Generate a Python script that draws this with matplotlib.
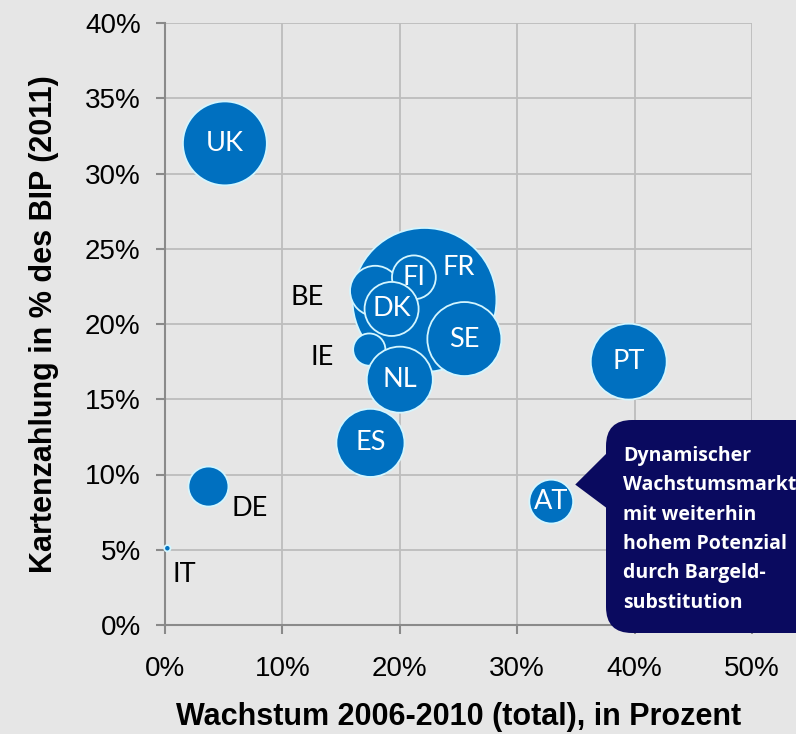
import matplotlib
matplotlib.use("Agg")
import matplotlib.pyplot as plt
from matplotlib.patches import FancyBboxPatch, Polygon
from matplotlib.transforms import IdentityTransform
from matplotlib.ticker import MultipleLocator, PercentFormatter

# Bubble data (drawing order: FR in the back)
countries = ["FR", "BE", "FI", "DK", "SE", "IE", "ES", "NL", "UK", "DE", "IT", "AT", "PT"]
growth = [22.1, 17.9, 21.2, 19.3, 25.5, 17.4, 17.5, 20.0, 5.1, 3.7, 0.2, 32.9, 39.5]      # % 2006-2010
card_share = [21.6, 22.2, 23.1, 21.0, 19.0, 18.3, 12.1, 16.3, 32.0, 9.2, 5.1, 8.2, 17.5]  # % of GDP 2011
volume = [51.8, 6.3, 4.8, 7.3, 13.7, 2.6, 11.6, 10.9, 17.6, 4.0, 0.1, 4.8, 14.4]         # bubble size

outside = {"BE", "IE", "DE", "IT"}
# label offsets in points (layout only)
label_offset = {"FR": (25, 23), "BE": (-49, -5), "IE": (-34, -6), "DE": (30, -16), "IT": (12, -19)}

callout = "Dynamischer\nWachstumsmarkt\nmit weiterhin\nhohem Potenzial\ndurch Bargeld-\nsubstitution"

BG = "#e6e6e6"
BLUE = "#0070c0"
NAVY = "#0a0a5f"

W, H = 796, 734
fig = plt.figure(figsize=(W / 100, H / 100), dpi=100, facecolor=BG)
ax = fig.add_axes([165 / W, 1 - 625 / H, (752 - 165) / W, (625 - 23) / H], facecolor=BG)

sizes = [v * 207.36 for v in volume]
ax.scatter(growth, card_share, s=sizes, c=BLUE, edgecolors="#d4f6ff", linewidths=1.3,
           zorder=3, clip_on=False)

for name, x, y in zip(countries, growth, card_share):
    dx, dy = label_offset.get(name, (0, 0))
    ax.annotate(name, (x, y), xytext=(dx, dy), textcoords="offset points",
                ha="center", va="center", fontsize=19.5, family="Lato",
                color="black" if name in outside else "white", zorder=4)

ax.set_xlim(0, 50)
ax.set_ylim(0, 40)
ax.xaxis.set_major_locator(MultipleLocator(10))
ax.yaxis.set_major_locator(MultipleLocator(5))
ax.xaxis.set_major_formatter(PercentFormatter(decimals=0))
ax.yaxis.set_major_formatter(PercentFormatter(decimals=0))
ax.grid(True, color="#bdbdbd", linewidth=1.3, zorder=0)
ax.set_axisbelow(True)
for side in ["top", "right"]:
    ax.spines[side].set_visible(False)
for side in ["left", "bottom"]:
    ax.spines[side].set_color("#8a8a8a")
    ax.spines[side].set_linewidth(1.5)
ax.tick_params(axis="both", colors="#8a8a8a", length=6.5, width=1.5, labelsize=20,
               labelcolor="black")
ax.tick_params(axis="y", pad=11)
ax.tick_params(axis="x", pad=16)
for lab in ax.get_xticklabels() + ax.get_yticklabels():
    lab.set_family("Liberation Sans")

ax.set_xlabel("Wachstum 2006-2010 (total), in Prozent", fontsize=22, fontweight="bold",
              family="Liberation Sans", labelpad=14)
ax.set_ylabel("Kartenzahlung in % des BIP (2011)", fontsize=22, fontweight="bold",
              family="Liberation Sans", labelpad=19)

# callout box pointing at AT
fig.canvas.draw()
at = countries.index("AT")
tx, ty = ax.transData.transform((growth[at], card_share[at]))
ident = IdentityTransform()
box = FancyBboxPatch((606, H - 633), 240, 213, boxstyle="round,pad=0,rounding_size=26",
                     facecolor=NAVY, edgecolor="none", transform=ident, zorder=5)
fig.add_artist(box)
tip = Polygon([(tx + 24, ty + 17), (612, H - 448), (612, H - 512)], closed=True,
              facecolor=NAVY, edgecolor="none", transform=ident, zorder=5)
fig.add_artist(tip)
fig.text(623, H - 446, callout, transform=ident, ha="left", va="top", color="white",
         fontsize=14, fontweight="bold", family="Open Sans", linespacing=1.62, zorder=6)

fig.savefig("out.png", dpi=100, facecolor=BG)
